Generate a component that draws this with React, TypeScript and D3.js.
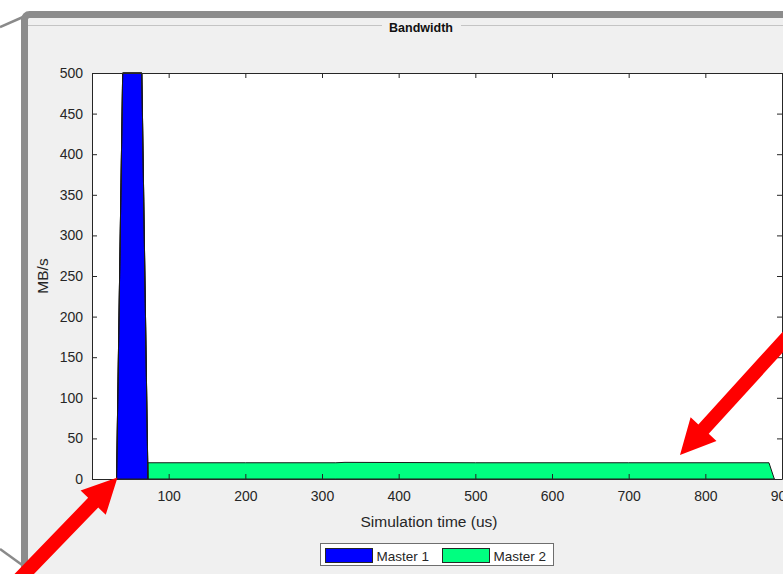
import React, { useEffect, useRef } from "react";
import * as d3 from "d3";

// sample times (us) and bandwidth per master (MB/s), stacked like MATLAB area()
const times = [32, 40, 65, 73, 73, 200, 318, 330, 500, 700, 883, 890];
const master1 = [0, 500, 500, 0, 0, 0, 0, 0, 0, 0, 0, 0];
const master2 = [0, 0, 0, 0, 20, 20, 20, 20.5, 20, 20, 20, 0];
const seriesNames = ["Master 1", "Master 2"];
const seriesColors = ["#0000ff", "#00ff80"];
const xTicks = [100, 200, 300, 400, 500, 600, 700, 800, 900];
const yTicks = [0, 50, 100, 150, 200, 250, 300, 350, 400, 450, 500];

const W = 783;
const H = 574;
const plot = { left: 92, top: 73, right: 782, bottom: 479 };
const axisColor = "#262626";
const font = "'Liberation Sans', Arial, sans-serif";

// red annotation arrows: tip + direction toward the tail
const arrows = [
  { tip: [117.5, 477.5], dir: [-0.695, 0.719] },
  { tip: [680, 455], dir: [0.673, -0.739] },
];

function arrowPoints(tip: number[], dir: number[]) {
  const headLen = 35, headHalf = 17.5, shaftHalf = 7, len = 260;
  const [tx, ty] = tip;
  const [dx, dy] = dir;
  const px = -dy, py = dx;
  const bx = tx + dx * headLen, by = ty + dy * headLen;
  const ex = tx + dx * len, ey = ty + dy * len;
  const pts = [
    [tx, ty],
    [bx + px * headHalf, by + py * headHalf],
    [bx + px * shaftHalf, by + py * shaftHalf],
    [ex + px * shaftHalf, ey + py * shaftHalf],
    [ex - px * shaftHalf, ey - py * shaftHalf],
    [bx - px * shaftHalf, by - py * shaftHalf],
    [bx - px * headHalf, by - py * headHalf],
  ];
  return pts.map((p) => p.join(",")).join(" ");
}

export default function App() {
  const ref = useRef<SVGSVGElement>(null);

  useEffect(() => {
    const svg = d3.select(ref.current);
    svg.selectAll("*").remove();

    // page background + panel
    svg.append("rect").attr("width", W).attr("height", H).attr("fill", "#ffffff");
    svg.append("line").attr("x1", 0).attr("y1", 27).attr("x2", 23).attr("y2", 17)
      .attr("stroke", "#8a8a8a").attr("stroke-width", 2.5);
    svg.append("line").attr("x1", 0).attr("y1", 549).attr("x2", 36).attr("y2", 575)
      .attr("stroke", "#8a8a8a").attr("stroke-width", 2.5);
    svg.append("rect").attr("x", 24.5).attr("y", 14.5).attr("width", 820).attr("height", 620)
      .attr("rx", 5).attr("fill", "#f0f0f0").attr("stroke", "#8c8c8c").attr("stroke-width", 7);

    // panel title with etched line
    svg.append("line").attr("x1", 28).attr("x2", 382).attr("y1", 25.5).attr("y2", 25.5)
      .attr("stroke", "#c4c4c4");
    svg.append("line").attr("x1", 461).attr("x2", W).attr("y1", 25.5).attr("y2", 25.5)
      .attr("stroke", "#c4c4c4");
    svg.append("text").attr("x", 421).attr("y", 31.5).attr("text-anchor", "middle")
      .style("font-family", font).style("font-size", "12.5px").style("font-weight", "bold")
      .attr("fill", "#111").text("Bandwidth");

    const x = d3.scaleLinear().domain([0, 900]).range([plot.left, plot.right]);
    const y = d3.scaleLinear().domain([0, 500]).range([plot.bottom, plot.top]);

    svg.append("rect").attr("x", plot.left).attr("y", plot.top)
      .attr("width", plot.right - plot.left).attr("height", plot.bottom - plot.top)
      .attr("fill", "#ffffff");

    // stacked areas
    const stacked = [master1, master1.map((v, i) => v + master2[i])];
    stacked.forEach((top, k) => {
      const base = k === 0 ? times.map(() => 0) : stacked[k - 1];
      const area = d3.area<number>()
        .x((_, i) => x(times[i]))
        .y0((_, i) => y(base[i]))
        .y1((_, i) => y(top[i]));
      svg.append("path").datum(times).attr("d", area)
        .attr("fill", seriesColors[k]).attr("stroke", "#1a1a1a").attr("stroke-width", 1);
    });

    // axes with inward ticks (box on)
    const styleAxis = (g: any) => {
      g.select(".domain").attr("stroke", axisColor);
      g.selectAll(".tick line").attr("stroke", axisColor);
      g.selectAll(".tick text").attr("fill", axisColor)
        .style("font-family", font).style("font-size", "14px");
    };
    svg.append("g").attr("transform", `translate(0,${plot.bottom})`)
      .call(d3.axisBottom(x).tickValues(xTicks).tickSizeInner(-5).tickSizeOuter(0).tickPadding(12))
      .call(styleAxis);
    svg.append("g").attr("transform", `translate(0,${plot.top})`)
      .call(d3.axisTop(x).tickValues(xTicks).tickSizeInner(-5).tickSizeOuter(0).tickFormat(() => ""))
      .call(styleAxis);
    svg.append("g").attr("transform", `translate(${plot.left},0)`)
      .call(d3.axisLeft(y).tickValues(yTicks).tickSizeInner(-5).tickSizeOuter(0).tickPadding(9))
      .call(styleAxis);
    svg.append("g").attr("transform", `translate(${plot.right},0)`)
      .call(d3.axisRight(y).tickValues(yTicks).tickSizeInner(-5).tickSizeOuter(0).tickFormat(() => ""))
      .call(styleAxis);

    svg.append("text").attr("x", (plot.left + plot.right) / 2 - 8).attr("y", 527)
      .attr("text-anchor", "middle").attr("fill", axisColor)
      .style("font-family", font).style("font-size", "15.5px").text("Simulation time (us)");
    svg.append("text").attr("transform", `translate(48,${(plot.top + plot.bottom) / 2}) rotate(-90)`)
      .attr("text-anchor", "middle").attr("fill", axisColor)
      .style("font-family", font).style("font-size", "15.5px").text("MB/s");

    // legend
    const lg = svg.append("g");
    lg.append("rect").attr("x", 320.5).attr("y", 543.5).attr("width", 233).attr("height", 22)
      .attr("fill", "#ffffff").attr("stroke", "#6e6e6e");
    seriesNames.forEach((name, i) => {
      const x0 = 325.5 + i * 117;
      lg.append("rect").attr("x", x0).attr("y", 548.5).attr("width", 47).attr("height", 14)
        .attr("fill", seriesColors[i]).attr("stroke", "#262626");
      lg.append("text").attr("x", x0 + 51).attr("y", 560.5).attr("fill", axisColor)
        .style("font-family", font).style("font-size", "13.5px").text(name);
    });

    // red arrows on top
    arrows.forEach((a) => {
      svg.append("polygon").attr("points", arrowPoints(a.tip, a.dir)).attr("fill", "#ff0000");
    });
  }, []);

  return (
    <svg ref={ref} width={W} height={H}
      style={{ position: "absolute", left: 0, top: 0, display: "block" }} />
  );
}
